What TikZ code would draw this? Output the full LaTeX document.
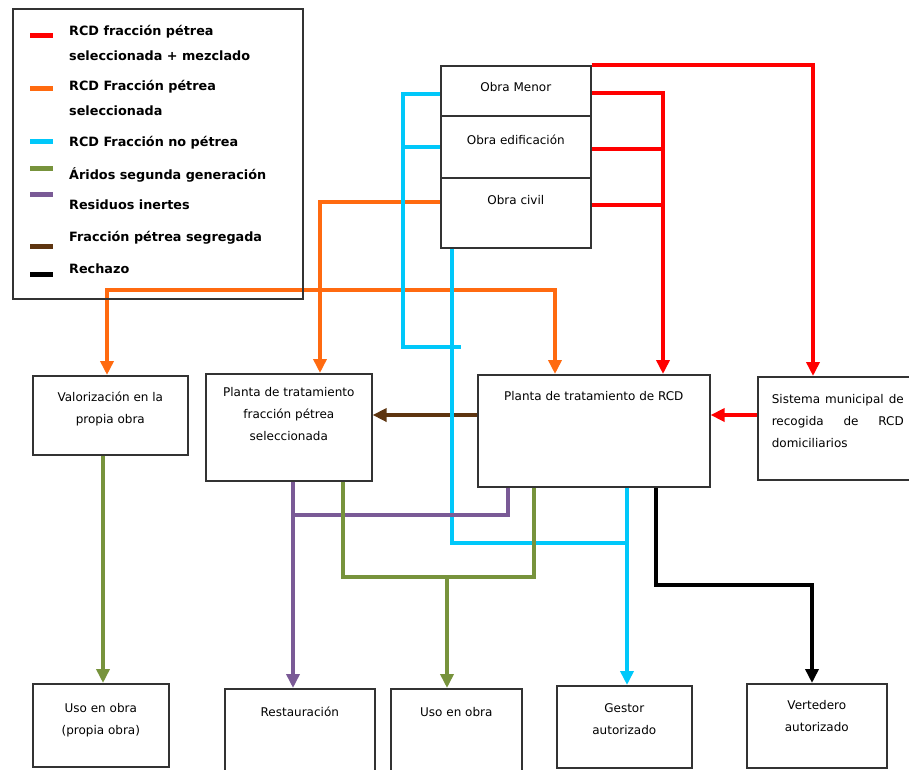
\documentclass[tikz,border=0pt]{standalone}
\usepackage{fontspec}
\setmainfont{DejaVu Sans}
\usepackage{tikz}
\usetikzlibrary{positioning}
\usetikzlibrary{arrows.meta}
\definecolor{rcdred}{HTML}{FF0000}
\definecolor{rcdorange}{HTML}{FF6A10}
\definecolor{rcdcyan}{HTML}{00C8FA}
\definecolor{aridgreen}{HTML}{77933C}
\definecolor{inertpurple}{HTML}{7A5A96}
\definecolor{segbrown}{HTML}{5E3510}

\begin{document}
\begin{tikzpicture}[x=1pt, y=-1pt,
Bnode/.style={draw=black!80, line width=1.6pt, anchor=north west, inner sep=0pt},
Tnode/.style={font=\fontsize{12}{22}\selectfont, align=center, inner sep=0pt},
flow/.style={line width=4.5pt},
tip/.style={-{Triangle[length=14pt,width=13pt]}},
Lkey/.style={line width=5pt},
Ltext/.style={font=\fontsize{12.8}{25}\selectfont\bfseries, anchor=north west, align=left, inner sep=0pt}
]
\clip (0,0) rectangle (909,769);

%Nodes
\node[Bnode, minimum width=150pt, minimum height=182pt] (obra) at (440,65) {};
\node[Bnode, minimum width=232pt, minimum height=112pt] (prcd) at (477,374) {};
\node[Bnode, minimum width=160pt, minimum height=103pt] (sist) at (757,376) {};
\node[Bnode, minimum width=166pt, minimum height=107pt] (pfrac) at (205,373) {};
\node[Bnode, minimum width=155pt, minimum height=79pt] (valor) at (32,375) {};
\node[Bnode, minimum width=136pt, minimum height=83pt] (uso1) at (32,683) {};
\node[Bnode, minimum width=150pt, minimum height=90pt] (rest) at (224,688) {};
\node[Bnode, minimum width=131pt, minimum height=90pt] (uso2) at (390,688) {};
\node[Bnode, minimum width=135pt, minimum height=82pt] (gestor) at (556,685) {};
\node[Bnode, minimum width=140pt, minimum height=84pt] (verted) at (746,683) {};

\draw[draw=black!80, line width=1.6pt] (obra.west |- 0,116) -- (obra.east |- 0,116);
\draw[draw=black!80, line width=2.6pt] (obra.west |- 0,178) -- (obra.east |- 0,178);

\node[Tnode] (tmenor) [below=17pt of obra.north] {Obra Menor};
\node[Tnode] (tedif) [below=70pt of obra.north] {Obra edificación};
\node[Tnode] (tcivil) [below=130pt of obra.north] {Obra civil};
\node[Tnode] (tprcd) [below=17pt of prcd.north] {Planta de tratamiento de RCD};
\node[Tnode, text width=132pt, align=left] (tsist) [below=18pt of sist.north]
  {Sistema\hfill municipal\hfill de\\recogida\hfill de\hfill RCD\\domiciliarios};
\node[Tnode] (tpfrac) [below=14pt of pfrac.north] {Planta de tratamiento\\fracción pétrea\\seleccionada};
\node[Tnode] (tvalor) [below=17pt of valor.north] {Valorización en la\\propia obra};
\node[Tnode] (tuso1) [below=20pt of uso1.north] {Uso en obra\\(propia obra)};
\node[Tnode] (trest) [below=19pt of rest.north] {Restauración};
\node[Tnode] (tuso2) [below=19pt of uso2.north] {Uso en obra};
\node[Tnode] (tgestor) [below=18pt of gestor.north] {Gestor\\autorizado};
\node[Tnode] (tverted) [below=17pt of verted.north] {Vertedero\\autorizado};

\coordinate (rjoin) at (663,93);
\coordinate (ojoin) at (320,290);
\coordinate (cleft) at (403,94);
\coordinate (cturn) at (403,347);
\coordinate (cend) at (461,347);
\coordinate (cjoin) at (627,543);
\coordinate (pturn) at (293,515);
\coordinate (gturn) at (343,577);
\coordinate (gjoin) at (447,577);
\coordinate (kturn) at (812,585);

%Lines
\draw[flow, rcdred, tip] (obra.north east) -| ([xshift=56pt]sist.north west);
\draw[flow, rcdred, tip] (obra.east |- rjoin) -| (prcd.north -| rjoin);
\draw[flow, rcdred] (obra.east |- 0,149) -- (rjoin |- 0,149);
\draw[flow, rcdred] (obra.east |- 0,205) -- (rjoin |- 0,205);
\draw[flow, rcdred, tip] (sist.west |- 0,415) -- (prcd.east |- 0,415);

\draw[flow, segbrown, tip] (prcd.west |- 0,415) -- (pfrac.east |- 0,415);

\draw[flow, rcdorange, tip] (obra.west |- 0,202) -| (pfrac.north -| ojoin);
\draw[flow, rcdorange, tip] (ojoin) -| (valor.north -| 107,0);
\draw[flow, rcdorange, tip] (ojoin) -| (prcd.north -| 555,0);

\draw[flow, rcdcyan] (obra.west |- cleft) -- (cleft) -- (cturn) -- (cend);
\draw[flow, rcdcyan] (obra.west |- 0,147) -- (cleft |- 0,147);
\draw[flow, rcdcyan] (obra.south -| 452,0) |- (cjoin);
\draw[flow, rcdcyan, tip] (prcd.south -| cjoin) -- (gestor.north -| cjoin);

\draw[flow, inertpurple] (prcd.south -| 508,0) |- (pturn);
\draw[flow, inertpurple, tip] (pfrac.south -| pturn) -- (rest.north -| pturn);

\draw[flow, aridgreen] (prcd.south -| 534,0) |- (gturn) -- (pfrac.south -| gturn);
\draw[flow, aridgreen, tip] (gjoin) -- (uso2.north -| gjoin);
\draw[flow, aridgreen, tip] (valor.south -| 103,0) -- (uso1.north -| 103,0);

\draw[flow, black, tip] (prcd.south -| 656,0) |- (kturn) -- (verted.north -| kturn);

%Legend
\node[Bnode, minimum width=290pt, minimum height=290pt] (legend) at (12,8) {};
\draw[Lkey, rcdred] (30,35) -- (53,35);
\draw[Lkey, rcdorange] (30,88) -- (53,88);
\draw[Lkey, rcdcyan] (30,141) -- (53,141);
\draw[Lkey, aridgreen] (30,168) -- (53,168);
\draw[Lkey, inertpurple] (30,194) -- (53,194);
\draw[Lkey, segbrown] (30,246) -- (53,246);
\draw[Lkey, black] (30,274) -- (53,274);
\node[Ltext] (l1) at (69,25) {RCD fracción pétrea\\seleccionada + mezclado};
\node[Ltext] (l2) at (69,80) {RCD Fracción pétrea\\seleccionada};
\node[Ltext] (l3) at (69,136) {RCD Fracción no pétrea};
\node[Ltext] (l4) at (69,167) {Áridos segunda generación};
\node[Ltext] (l5) at (69,200) {Residuos inertes};
\node[Ltext] (l6) at (69,231) {Fracción pétrea segregada};
\node[Ltext] (l7) at (69,264) {Rechazo};
\end{tikzpicture}
\end{document}
